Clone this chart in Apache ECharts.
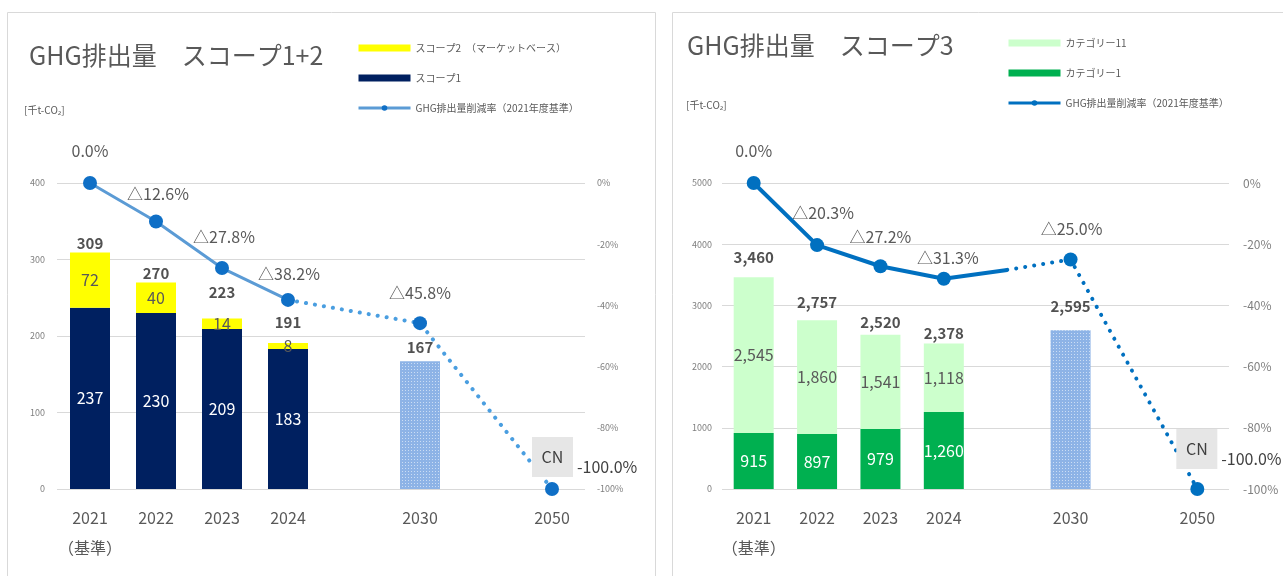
<!DOCTYPE html>
<html>
<head>
<meta charset="utf-8">
<script src="https://cdn.jsdelivr.net/npm/echarts@6/dist/echarts.min.js"></script>
<style>
html,body{margin:0;padding:0;background:#fff;}
#main{width:1283px;height:576px;}
</style>
</head>
<body>
<div id="main"></div>
<script>
// 共通カテゴリ（空欄は間隔調整用）
var categories = ['2021\n（基準）','2022','2023','2024','','2030','','2050'];

// スコープ1+2
var scope1 = [237,230,209,183,null,null,null,null];
var scope2 = [72,40,14,8,null,null,null,null];
var scope12Target = [null,null,null,null,null,167,null,null];
var scope12Total = [309,270,223,191,null,167,null,null];
var scope12RateActual = [0,-12.6,-27.8,-38.2,null,null,null,null];
var scope12RateOutlook = [null,null,null,-38.2,null,-45.8,null,-100];

// スコープ3
var cat1 = [915,897,979,1260,null,null,null,null];
var cat11 = [2545,1860,1541,1118,null,null,null,null];
var scope3Target = [null,null,null,null,null,2595,null,null];
var scope3Total = [3460,2757,2520,2378,null,2595,null,null];
var scope3RateActual = [0,-20.3,-27.2,-31.3,-28.4,null,null,null];
var scope3RateOutlook = [null,null,null,null,-28.4,-25.0,null,-100];

var FONT = '"Noto Sans CJK JP","Noto Sans",sans-serif';
var RATE_NAME = 'GHG排出量削減率（2021年度基準）';

function rateText(v){
	if(v===0){ return '0.0%'; }
	if(v===-100){ return '-100.0%'; }
	return '△'+(-v).toFixed(1)+'%';
}

function targetStyle(){
	return {
		color:'#8db3e6',
		decal:{
			symbol:'rect',
			symbolSize:1,
			color:'rgba(255,255,255,0.55)',
			dashArrayX:[1,2],
			dashArrayY:[1,2]
		}
	};
}

// 削減率の折れ線（実績：実線、見通し：点線）
function rateSeries(actual,outlook,gi,lineColor,dotColor,width,offsets,cnPos){
	var solid = actual.map(function(v,i){
		if(v==null){ return null; }
		var item = {value:v};
		if(offsets[i]){
			item.label = {show:true,offset:offsets[i]};
		}else{
			item.symbol = 'none';
		}
		return item;
	});
	var first = true;
	var dotted = outlook.map(function(v,i){
		if(v==null){ return null; }
		if(first){ first=false; return {value:v,symbol:'none'}; }
		if(v===-100){
			return {
				value:v,
				label:{
					show:true,
					position:cnPos,
					align:'left',
					verticalAlign:'bottom',
					formatter:'{cn|CN}{pct|'+rateText(v)+'}',
					rich:{
						cn:{backgroundColor:'#e6e6e6',width:41,height:40,lineHeight:40,align:'center',fontSize:16,color:'#404040',fontFamily:FONT},
						pct:{fontSize:16,color:'#404040',padding:[0,0,2,4],fontFamily:FONT,verticalAlign:'bottom'}
					}
				}
			};
		}
		return {value:v,label:{show:true,offset:offsets[i]||[0,-15]}};
	});
	var lbl = {show:false,position:'top',distance:0,color:'#595959',fontSize:16,fontFamily:FONT,
		formatter:function(p){ return rateText(p.value); }};
	return [{
		name:RATE_NAME,
		type:'line',
		xAxisIndex:gi,yAxisIndex:gi*2+1,
		data:solid,
		symbol:'circle',symbolSize:14,
		lineStyle:{color:lineColor,width:width},
		itemStyle:{color:dotColor},
		label:lbl,
		z:5
	},{
		name:'削減率見通し'+gi,
		type:'line',
		xAxisIndex:gi,yAxisIndex:gi*2+1,
		data:dotted,
		connectNulls:true,
		symbol:'circle',symbolSize:14,
		lineStyle:{color:dotColor,width:4,type:[0.1,9],cap:'round'},
		itemStyle:{color:dotColor},
		label:lbl,
		z:5
	}];
}

// 合計ラベル（棒との重なりを避ける縦位置調整つき）
function totalSeries(data,gi,dist,shifts){
	return {
		name:'合計'+gi,
		type:'scatter',
		xAxisIndex:gi,yAxisIndex:gi*2,
		data:data.map(function(v,i){
			if(v==null){ return null; }
			return {value:v,label:{offset:[0,shifts[i]||0]}};
		}),
		symbolSize:0,
		label:{show:true,position:'top',distance:dist,color:'#262626',fontSize:15,fontWeight:'bold',fontFamily:FONT,
			formatter:function(p){ return Number(p.value).toLocaleString('en-US'); }},
		z:6
	};
}

function barLabel(color){
	return {show:true,position:'inside',color:color,fontSize:16,fontFamily:FONT,
		formatter:function(p){ return Number(p.value).toLocaleString('en-US'); }};
}

function xAxisOf(gi){
	return {
		gridIndex:gi,type:'category',data:categories,
		axisTick:{show:false},axisLine:{show:false},
		axisLabel:{color:'#595959',fontSize:16,fontFamily:FONT,margin:14,lineHeight:30,interval:0}
	};
}

var chart = echarts.init(document.getElementById('main'));
var option = {
	animation:false,
	textStyle:{fontFamily:FONT},
	graphic:[
		{type:'rect',shape:{x:7.5,y:12.5,width:648,height:620},style:{fill:'none',stroke:'#d9d9d9',lineWidth:1},silent:true},
		{type:'rect',shape:{x:672.5,y:12.5,width:700,height:620},style:{fill:'none',stroke:'#d9d9d9',lineWidth:1},silent:true}
	],
	title:[
		{text:'GHG排出量　スコープ1+2',left:24,top:38,textStyle:{fontSize:25,fontWeight:'normal',color:'#595959',fontFamily:FONT}},
		{text:'[千t-CO₂]',left:19,top:100,textStyle:{fontSize:10,fontWeight:'normal',color:'#595959',fontFamily:FONT}},
		{text:'GHG排出量　スコープ3',left:682,top:28,textStyle:{fontSize:25,fontWeight:'normal',color:'#595959',fontFamily:FONT}},
		{text:'[千t-CO₂]',left:681,top:95,textStyle:{fontSize:10,fontWeight:'normal',color:'#595959',fontFamily:FONT}}
	],
	legend:[{
		orient:'vertical',left:352,top:36,itemWidth:52,itemHeight:7,itemGap:16,
		textStyle:{fontSize:10,color:'#595959',fontFamily:FONT,lineHeight:14,height:14},
		selectedMode:false,
		data:[
			{name:'スコープ2　（マーケットベース）',icon:'rect'},
			{name:'スコープ1',icon:'rect'},
			{name:RATE_NAME,itemStyle:{color:'#0f6fc6'},lineStyle:{color:'#5b9bd5',width:3}}
		]
	},{
		orient:'vertical',left:1002,top:31,itemWidth:52,itemHeight:7,itemGap:16,
		textStyle:{fontSize:10,color:'#595959',fontFamily:FONT,lineHeight:14,height:14},
		selectedMode:false,
		data:[
			{name:'カテゴリー11',icon:'rect'},
			{name:'カテゴリー1',icon:'rect'},
			{name:RATE_NAME,itemStyle:{color:'#0070c0'},lineStyle:{color:'#0070c0',width:3}}
		]
	}],
	grid:[
		{left:57,right:698,top:183,bottom:87},
		{left:722,right:54,top:183,bottom:87}
	],
	xAxis:[xAxisOf(0),xAxisOf(1)],
	yAxis:[
		{gridIndex:0,type:'value',min:0,max:400,interval:100,
			axisLabel:{color:'#7f7f7f',fontSize:9,margin:12},
			splitLine:{lineStyle:{color:'#d9d9d9'}}},
		{gridIndex:0,type:'value',position:'right',min:-100,max:0,interval:20,
			axisLabel:{color:'#7f7f7f',fontSize:9,margin:12,formatter:'{value}%'},
			splitLine:{show:false}},
		{gridIndex:1,type:'value',min:0,max:5000,interval:1000,
			axisLabel:{color:'#7f7f7f',fontSize:9,margin:10,formatter:function(v){ return String(v); }},
			splitLine:{lineStyle:{color:'#d9d9d9'}}},
		{gridIndex:1,type:'value',position:'right',min:-100,max:0,interval:20,
			axisLabel:{color:'#7f7f7f',fontSize:12,margin:14,formatter:'{value}%'},
			splitLine:{show:false}}
	],
	series:[
		{name:'スコープ1',type:'bar',stack:'s12',xAxisIndex:0,yAxisIndex:0,barWidth:40,
			data:scope1,itemStyle:{color:'#002060'},label:barLabel('#ffffff')},
		{name:'スコープ2　（マーケットベース）',type:'bar',stack:'s12',xAxisIndex:0,yAxisIndex:0,barWidth:40,
			data:scope2,itemStyle:{color:'#ffff00'},label:barLabel('#595959')},
		{name:'2030目標0',type:'bar',stack:'s12',xAxisIndex:0,yAxisIndex:0,barWidth:40,
			data:scope12Target,itemStyle:targetStyle()},
		totalSeries(scope12Total,0,2,[0,0,-17,-11,0,-4,0,0]),

		{name:'カテゴリー1',type:'bar',stack:'s3',xAxisIndex:1,yAxisIndex:2,barWidth:40,
			data:cat1,itemStyle:{color:'#00b050'},label:barLabel('#ffffff')},
		{name:'カテゴリー11',type:'bar',stack:'s3',xAxisIndex:1,yAxisIndex:2,barWidth:40,
			data:cat11,itemStyle:{color:'#ccffcc'},label:barLabel('#595959')},
		{name:'2030目標1',type:'bar',stack:'s3',xAxisIndex:1,yAxisIndex:2,barWidth:40,
			data:scope3Target,itemStyle:targetStyle()},
		totalSeries(scope3Total,1,10,[-2,0,5,7,0,-6,0,0])
	]
};

option.series = option.series.concat(
	rateSeries(scope12RateActual,scope12RateOutlook,0,'#5b9bd5','#0f6fc6',3,
		{0:[0,-17],1:[2,-13],2:[2,-16],3:[1,-11],5:[0,-15]},[-13,-5]),
	rateSeries(scope3RateActual,scope3RateOutlook,1,'#0070c0','#0070c0',4,
		{0:[0,-17],1:[6,-17],2:[0,-14],3:[4,-6],5:[1,-16]},[-14,-13])
);
// 左グラフの点線は少し明るい色
option.series[option.series.length-3].lineStyle.color = '#4a9ee0';

chart.setOption(option);
</script>
</body>
</html>
